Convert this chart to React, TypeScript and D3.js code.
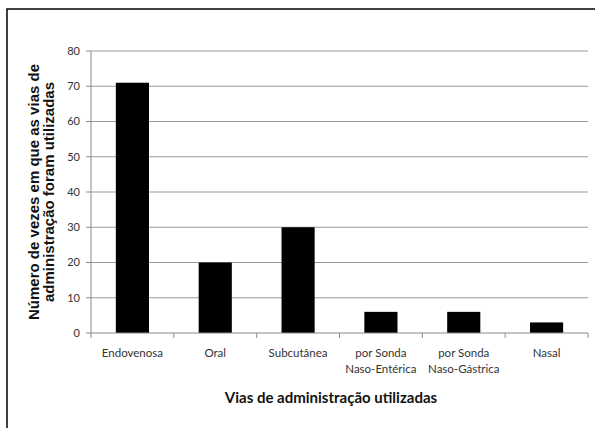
import React from "react";
import * as d3 from "d3";

const categories: string[][] = [
  ["Endovenosa"],
  ["Oral"],
  ["Subcutânea"],
  ["por Sonda", "Naso-Entérica"],
  ["por Sonda", "Naso-Gástrica"],
  ["Nasal"],
];
const values: number[] = [71, 20, 30, 6, 6, 3];
const yTicks: number[] = [0, 10, 20, 30, 40, 50, 60, 70, 80];
const yTitle: string[] = ["Número de vezes em que as vias de", "administração foram utilizadas"];
const xTitle = "Vias de administração utilizadas";

const W = 595;
const H = 428;
const left = 91;
const right = 588;
const top = 51;
const bottom = 333;

export default function App() {
  const keys = categories.map((_, i) => String(i));
  const x = d3.scaleBand<string>().domain(keys).range([left, right]).paddingInner(0.6).paddingOuter(0.3);
  const xStep = d3.scaleBand<string>().domain(keys).range([left, right]);
  const y = d3.scaleLinear().domain([0, 80]).range([bottom, top]);

  const labelFont = "Lato, 'Open Sans', sans-serif";
  const titleFont = "'Liberation Sans', Arial, sans-serif";

  return (
    <svg
      width={W}
      height={H}
      style={{ position: "absolute", left: 0, top: 0, background: "#fff" }}
    >
      <rect x={0} y={0} width={W} height={H} fill="#fff" />
      <rect x={7} y={9} width={W} height={H} fill="none" stroke="#000" strokeWidth={1.5} />

      {/* horizontal gridlines */}
      {yTicks.filter((t) => t > 0).map((t) => (
        <line key={t} x1={left} x2={right} y1={y(t)} y2={y(t)} stroke="#9a9a9a" strokeWidth={1} />
      ))}

      {/* y axis */}
      <line x1={left} x2={left} y1={top} y2={bottom} stroke="#8a8a8a" strokeWidth={1} />
      {yTicks.map((t) => (
        <g key={t}>
          <line x1={left - 5} x2={left} y1={y(t)} y2={y(t)} stroke="#8a8a8a" />
          <text
            x={left - 11}
            y={y(t)}
            dy="0.35em"
            textAnchor="end"
            fontFamily={labelFont}
            fontSize={11}
            fill="#333"
          >
            {t}
          </text>
        </g>
      ))}

      {/* bars */}
      {values.map((v, i) => (
        <rect
          key={i}
          x={x(String(i))}
          y={y(v)}
          width={x.bandwidth()}
          height={y(0) - y(v)}
          fill="#000"
        />
      ))}

      {/* x axis */}
      <line x1={left} x2={right} y1={bottom} y2={bottom} stroke="#8a8a8a" strokeWidth={1} />
      {keys.concat(["end"]).map((k, i) => {
        const xp = i < keys.length ? (xStep(k) as number) : right;
        return <line key={k} x1={xp} x2={xp} y1={bottom} y2={bottom + 5} stroke="#8a8a8a" />;
      })}
      {categories.map((lines, i) => {
        const cx = (xStep(String(i)) as number) + xStep.bandwidth() / 2;
        return (
          <text
            key={i}
            x={cx}
            y={357}
            textAnchor="middle"
            fontFamily={labelFont}
            fontSize={11.5}
            fill="#333"
          >
            {lines.map((l, j) => (
              <tspan key={j} x={cx} dy={j === 0 ? 0 : 16}>
                {l}
              </tspan>
            ))}
          </text>
        );
      })}

      {/* axis titles */}
      <text
        x={331}
        y={403}
        textAnchor="middle"
        fontFamily={labelFont}
        fontWeight="bold"
        fontSize={15}
        fill="#111"
      >
        {xTitle}
      </text>
      <text
        transform={`translate(39, ${(top + bottom) / 2}) rotate(-90)`}
        textAnchor="middle"
        fontFamily={titleFont}
        fontWeight="bold"
        fontSize={15}
        fill="#111"
      >
        {yTitle.map((l, j) => (
          <tspan key={j} x={0} dy={j === 0 ? 0 : 15}>
            {l}
          </tspan>
        ))}
      </text>
    </svg>
  );
}
